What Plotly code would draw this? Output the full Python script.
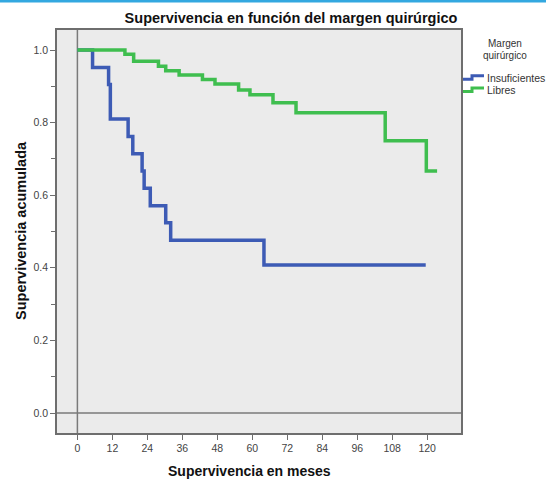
import plotly.graph_objects as go

# Kaplan-Meier survival estimates by surgical margin
months_insuf = [0, 5.2, 10.7, 11.3, 17.4, 19.0, 22.2, 22.9, 25.0, 30.3, 32.0, 64.0, 119.5]
surv_insuf = [1.0, 0.952, 0.905, 0.810, 0.762, 0.714, 0.667, 0.619, 0.571, 0.524, 0.476, 0.408, 0.408]

months_libres = [0, 16.3, 19.3, 27.8, 30.3, 34.9, 42.9, 47.2, 55.3, 59.2, 67.1, 75.0, 105.6, 119.7, 123.4]
surv_libres = [1.0, 0.988, 0.969, 0.955, 0.943, 0.931, 0.919, 0.906, 0.890, 0.877, 0.855, 0.827, 0.750, 0.667, 0.667]

group_names = ["Insuficientes", "Libres"]
group_colors = ["#3d5bb5", "#3fbe4f"]

x_ticks = list(range(0, 121, 12))
y_ticks = [0.0, 0.2, 0.4, 0.6, 0.8, 1.0]

title_text = "Supervivencia en función del margen quirúrgico"
x_title = "Supervivencia en meses"
y_title = "Supervivencia acumulada"
legend_title = ["Margen", "quirúrgico"]

W, H = 546, 479
L, R, T, B = 57, 85, 30, 46
PW, PH = W - L - R, H - T - B


def px(xp):
    return (xp - L) / PW


def py(yp):
    return (H - B - yp) / PH


FONT = "Liberation Sans, Arial, sans-serif"

fig = go.Figure()
for xs, ys, name, color in [
    (months_insuf, surv_insuf, group_names[0], group_colors[0]),
    (months_libres, surv_libres, group_names[1], group_colors[1]),
]:
    fig.add_trace(go.Scatter(
        x=xs, y=ys, mode="lines", name=name,
        line=dict(color=color, width=3.5, shape="hv"),
        showlegend=False, hoverinfo="x+y+name",
    ))

axis_common = dict(
    showgrid=False, zeroline=False, showline=True, mirror=True,
    linecolor="#6e6e6e", linewidth=1.5,
    ticks="outside", ticklen=5, tickcolor="#6e6e6e", tickwidth=1,
    tickfont=dict(family=FONT, size=10.5, color="#444444"),
)

fig.update_layout(
    width=W, height=H,
    margin=dict(l=L, r=R, t=T, b=B, pad=0),
    paper_bgcolor="white",
    plot_bgcolor="#ebebeb",
    title=dict(
        text=title_text, x=291 / W, xref="container", xanchor="center",
        y=1 - 17.5 / H, yref="container", yanchor="middle",
        font=dict(family=FONT, size=14.5, color="#111111", weight="bold"),
    ),
    xaxis=dict(
        range=[-7.0, 131.6], tickvals=x_ticks, ticktext=[str(v) for v in x_ticks],
        **axis_common,
    ),
    yaxis=dict(
        range=[-0.0551, 1.0551], tickvals=y_ticks, ticktext=[f"{v:.1f}" for v in y_ticks],
        minor=dict(dtick=0.1, ticks="outside", ticklen=4, tickcolor="#6e6e6e", showgrid=False),
        **axis_common,
    ),
)

# Reference lines at time 0 and survival 0
fig.add_shape(type="line", xref="x", yref="paper", x0=0, x1=0, y0=0, y1=1,
              line=dict(color="#7a7a7a", width=1.5), layer="below")
fig.add_shape(type="line", xref="paper", yref="y", x0=0, x1=1, y0=0, y1=0,
              line=dict(color="#7a7a7a", width=1.5), layer="below")

# Thin accent bar along the top edge
fig.add_shape(type="rect", xref="paper", yref="paper",
              x0=px(0), x1=px(W), y0=py(2.5), y1=py(0),
              line=dict(width=0), fillcolor="#33a8e0")

# Axis titles
fig.add_annotation(text=x_title, xref="paper", yref="paper", x=px(249), y=py(471),
                   showarrow=False, xanchor="center", yanchor="middle",
                   font=dict(family=FONT, size=14, color="#111111", weight="bold"))
fig.add_annotation(text=y_title, xref="paper", yref="paper", x=px(21), y=py(231),
                   textangle=-90, showarrow=False, xanchor="center", yanchor="middle",
                   font=dict(family=FONT, size=14.5, color="#111111", weight="bold"))

# Legend drawn by hand: title lines, step icons and labels
for line_text, yc in zip(legend_title, [43.5, 55.5]):
    fig.add_annotation(text=line_text, xref="paper", yref="paper", x=px(505), y=py(yc),
                       showarrow=False, xanchor="center", yanchor="middle",
                       borderpad=0,
                       font=dict(family=FONT, size=10, color="#333333"))

for name, color, yc in zip(group_names, group_colors, [77.7, 90.0]):
    lo, hi = yc + 1.5, yc - 2.0
    path = (f"M {px(463)},{py(lo)} L {px(472)},{py(lo)} "
            f"L {px(472)},{py(hi)} L {px(484)},{py(hi)}")
    fig.add_shape(type="path", xref="paper", yref="paper", path=path,
                  line=dict(color=color, width=3))
    fig.add_annotation(text=name, xref="paper", yref="paper", x=px(484.5), y=py(yc),
                       showarrow=False, xanchor="left", yanchor="middle",
                       font=dict(family=FONT, size=10.5, color="#333333"))

fig.write_html("out.html")
